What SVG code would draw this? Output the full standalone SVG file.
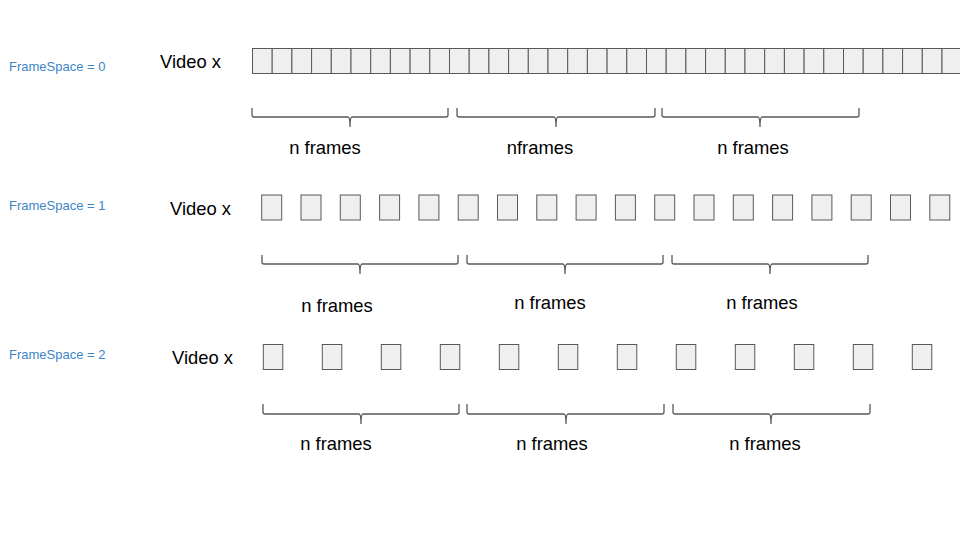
<svg xmlns="http://www.w3.org/2000/svg" width="960" height="540" viewBox="0 0 960 540">
<style>
.f{fill:#efefef;stroke:#595959;stroke-width:1}
.b{fill:none;stroke:#595959;stroke-width:1.3}
.lbl{font-family:"Liberation Sans",Arial,sans-serif;font-size:13px;fill:#3d85c6}
.t{font-family:"Liberation Sans",Arial,sans-serif;font-size:18.4px;fill:#000}
</style>
<rect width="960" height="540" fill="#fff"/>
<g id="row0">
<text class="lbl" x="9" y="71">FrameSpace = 0</text>
<text class="t" x="160" y="68">Video x</text>
<g id="frames0">
<rect class="f" x="252.5" y="48.5" width="19.7" height="25"/>
<rect class="f" x="272.2" y="48.5" width="19.7" height="25"/>
<rect class="f" x="291.9" y="48.5" width="19.7" height="25"/>
<rect class="f" x="311.6" y="48.5" width="19.7" height="25"/>
<rect class="f" x="331.3" y="48.5" width="19.7" height="25"/>
<rect class="f" x="351.0" y="48.5" width="19.7" height="25"/>
<rect class="f" x="370.7" y="48.5" width="19.7" height="25"/>
<rect class="f" x="390.4" y="48.5" width="19.7" height="25"/>
<rect class="f" x="410.1" y="48.5" width="19.7" height="25"/>
<rect class="f" x="429.8" y="48.5" width="19.7" height="25"/>
<rect class="f" x="449.5" y="48.5" width="19.7" height="25"/>
<rect class="f" x="469.2" y="48.5" width="19.7" height="25"/>
<rect class="f" x="488.9" y="48.5" width="19.7" height="25"/>
<rect class="f" x="508.6" y="48.5" width="19.7" height="25"/>
<rect class="f" x="528.3" y="48.5" width="19.7" height="25"/>
<rect class="f" x="548.0" y="48.5" width="19.7" height="25"/>
<rect class="f" x="567.7" y="48.5" width="19.7" height="25"/>
<rect class="f" x="587.4" y="48.5" width="19.7" height="25"/>
<rect class="f" x="607.1" y="48.5" width="19.7" height="25"/>
<rect class="f" x="626.8" y="48.5" width="19.7" height="25"/>
<rect class="f" x="646.5" y="48.5" width="19.7" height="25"/>
<rect class="f" x="666.2" y="48.5" width="19.7" height="25"/>
<rect class="f" x="685.9" y="48.5" width="19.7" height="25"/>
<rect class="f" x="705.6" y="48.5" width="19.7" height="25"/>
<rect class="f" x="725.3" y="48.5" width="19.7" height="25"/>
<rect class="f" x="745.0" y="48.5" width="19.7" height="25"/>
<rect class="f" x="764.7" y="48.5" width="19.7" height="25"/>
<rect class="f" x="784.4" y="48.5" width="19.7" height="25"/>
<rect class="f" x="804.1" y="48.5" width="19.7" height="25"/>
<rect class="f" x="823.8" y="48.5" width="19.7" height="25"/>
<rect class="f" x="843.5" y="48.5" width="19.7" height="25"/>
<rect class="f" x="863.2" y="48.5" width="19.7" height="25"/>
<rect class="f" x="882.9" y="48.5" width="19.7" height="25"/>
<rect class="f" x="902.6" y="48.5" width="19.7" height="25"/>
<rect class="f" x="922.3" y="48.5" width="19.7" height="25"/>
<rect class="f" x="942.0" y="48.5" width="19.7" height="25"/>
</g>
<g id="braces0">
<path class="b" d="M252 108 L252 115 Q252 117 254 117 L348 117 Q350 117 350 127 Q350 117 352 117 L446 117 Q448 117 448 115 L448 108"/>
<path class="b" d="M457 108 L457 115 Q457 117 459 117 L554 117 Q556 117 556 127 Q556 117 558 117 L653 117 Q655 117 655 115 L655 108"/>
<path class="b" d="M662 108 L662 115 Q662 117 664 117 L758 117 Q760 117 760 127 Q760 117 762 117 L857 117 Q859 117 859 115 L859 108"/>
</g>
<text class="t" x="325" y="154" text-anchor="middle">n frames</text>
<text class="t" x="540" y="154" text-anchor="middle">nframes</text>
<text class="t" x="753" y="154" text-anchor="middle">n frames</text>
</g>
<g id="row1">
<text class="lbl" x="9" y="210">FrameSpace = 1</text>
<text class="t" x="170" y="215">Video x</text>
<g id="frames1">
<rect class="f" x="261.7" y="195" width="20" height="25"/>
<rect class="f" x="301.0" y="195" width="20" height="25"/>
<rect class="f" x="340.3" y="195" width="20" height="25"/>
<rect class="f" x="379.6" y="195" width="20" height="25"/>
<rect class="f" x="418.9" y="195" width="20" height="25"/>
<rect class="f" x="458.2" y="195" width="20" height="25"/>
<rect class="f" x="497.5" y="195" width="20" height="25"/>
<rect class="f" x="536.8" y="195" width="20" height="25"/>
<rect class="f" x="576.1" y="195" width="20" height="25"/>
<rect class="f" x="615.4" y="195" width="20" height="25"/>
<rect class="f" x="654.7" y="195" width="20" height="25"/>
<rect class="f" x="694.0" y="195" width="20" height="25"/>
<rect class="f" x="733.3" y="195" width="20" height="25"/>
<rect class="f" x="772.6" y="195" width="20" height="25"/>
<rect class="f" x="811.9" y="195" width="20" height="25"/>
<rect class="f" x="851.2" y="195" width="20" height="25"/>
<rect class="f" x="890.5" y="195" width="20" height="25"/>
<rect class="f" x="929.8" y="195" width="20" height="25"/>
</g>
<g id="braces1">
<path class="b" d="M262 255 L262 262 Q262 264 264 264 L358 264 Q360 264 360 274 Q360 264 362 264 L456 264 Q458 264 458 262 L458 255"/>
<path class="b" d="M467 255 L467 262 Q467 264 469 264 L563 264 Q565 264 565 274 Q565 264 567 264 L661 264 Q663 264 663 262 L663 255"/>
<path class="b" d="M672 255 L672 262 Q672 264 674 264 L768 264 Q770 264 770 274 Q770 264 772 264 L866 264 Q868 264 868 262 L868 255"/>
</g>
<text class="t" x="337" y="312" text-anchor="middle">n frames</text>
<text class="t" x="550" y="309" text-anchor="middle">n frames</text>
<text class="t" x="762" y="309" text-anchor="middle">n frames</text>
</g>
<g id="row2">
<text class="lbl" x="9" y="359">FrameSpace = 2</text>
<text class="t" x="172" y="364">Video x</text>
<g id="frames2">
<rect class="f" x="263.3" y="344.5" width="19.5" height="25"/>
<rect class="f" x="322.3" y="344.5" width="19.5" height="25"/>
<rect class="f" x="381.3" y="344.5" width="19.5" height="25"/>
<rect class="f" x="440.3" y="344.5" width="19.5" height="25"/>
<rect class="f" x="499.3" y="344.5" width="19.5" height="25"/>
<rect class="f" x="558.3" y="344.5" width="19.5" height="25"/>
<rect class="f" x="617.3" y="344.5" width="19.5" height="25"/>
<rect class="f" x="676.3" y="344.5" width="19.5" height="25"/>
<rect class="f" x="735.3" y="344.5" width="19.5" height="25"/>
<rect class="f" x="794.3" y="344.5" width="19.5" height="25"/>
<rect class="f" x="853.3" y="344.5" width="19.5" height="25"/>
<rect class="f" x="912.3" y="344.5" width="19.5" height="25"/>
</g>
<g id="braces2">
<path class="b" d="M263 404 L263 412 Q263 414 265 414 L359 414 Q361 414 361 424 Q361 414 363 414 L457 414 Q459 414 459 412 L459 404"/>
<path class="b" d="M467 404 L467 412 Q467 414 469 414 L564 414 Q566 414 566 424 Q566 414 568 414 L662 414 Q664 414 664 412 L664 404"/>
<path class="b" d="M673 404 L673 412 Q673 414 675 414 L769 414 Q771 414 771 424 Q771 414 773 414 L868 414 Q870 414 870 412 L870 404"/>
</g>
<text class="t" x="336" y="450" text-anchor="middle">n frames</text>
<text class="t" x="552" y="450" text-anchor="middle">n frames</text>
<text class="t" x="765" y="450" text-anchor="middle">n frames</text>
</g>
</svg>
